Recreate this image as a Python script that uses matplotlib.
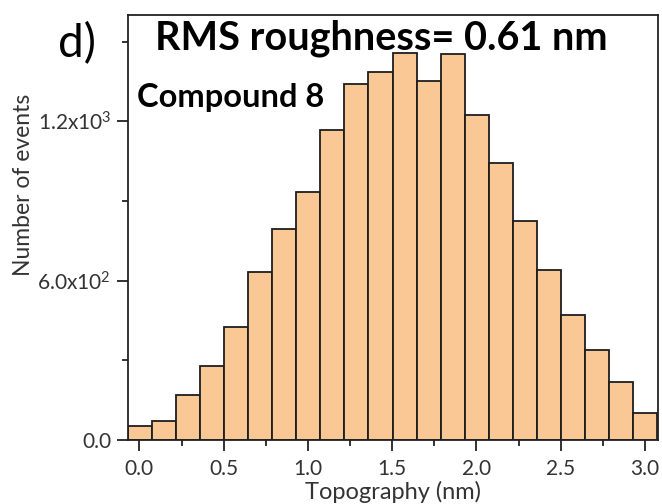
import numpy as np
import matplotlib
matplotlib.use("Agg")
import matplotlib.pyplot as plt
from matplotlib.ticker import MultipleLocator, FixedLocator

# Height histogram (topography) of the film surface
bin_start = -0.069          # nm, left edge of the first bin
bin_width = 0.1428          # nm
counts = [52, 72, 169, 278, 424, 634, 796, 934, 1169, 1339, 1386,
          1459, 1351, 1452, 1223, 1042, 825, 640, 471, 339, 217, 101]

x_ticks = [0.0, 0.5, 1.0, 1.5, 2.0, 2.5, 3.0]
x_tick_labels = ["0.0", "0.5", "1.0", "1.5", "2.0", "2.5", "3.0"]
y_ticks = [0, 600, 1200]
y_tick_labels = ["0.0", r"6.0x10$^{2}$", r"1.2x10$^{3}$"]

title_text = "RMS roughness= 0.61 nm"
sample_text = "Compound 8"
panel_text = "d)"

plt.rcParams["font.family"] = ["Lato", "DejaVu Sans"]
plt.rcParams["mathtext.fontset"] = "custom"
plt.rcParams["mathtext.rm"] = "Lato"
plt.rcParams["mathtext.default"] = "rm"

fig = plt.figure(figsize=(6.62, 5.04), dpi=100)
ax = fig.add_axes([0.193, 0.127, 0.801, 0.843])

edges = bin_start + bin_width * np.arange(len(counts))
ax.bar(edges, counts, width=bin_width, align="edge",
       color="#FAC895", edgecolor="#1e1e1e", linewidth=1.3)

ax.set_xlim(bin_start, 3.077)
ax.set_ylim(0, 1600)

ax.xaxis.set_major_locator(FixedLocator(x_ticks))
ax.set_xticklabels(x_tick_labels)
ax.xaxis.set_minor_locator(MultipleLocator(0.25))
ax.yaxis.set_major_locator(FixedLocator(y_ticks))
ax.set_yticklabels(y_tick_labels)
ax.yaxis.set_minor_locator(FixedLocator([300, 900, 1500]))

ax.tick_params(axis="both", which="major", direction="out", length=8,
               width=1.3, color="#222222", labelsize=15,
               labelcolor="#333333", pad=4)
ax.tick_params(axis="x", which="major", pad=6)
ax.tick_params(axis="both", which="minor", direction="out", length=4,
               width=1.3, color="#222222")
for s in ax.spines.values():
    s.set_linewidth(1.3)
    s.set_color("#222222")

ax.set_xlabel("Topography (nm)", fontsize=17, color="#333333", labelpad=1)
ax.set_ylabel("Number of events", fontsize=16.5, color="#333333")
ax.yaxis.set_label_coords(-0.177, 0.6)

fig.text(381 / 662, 1 - 38 / 504, title_text, fontsize=28.5, fontweight="bold",
         ha="center", va="center", color="black")
fig.text(137 / 662, 1 - 97 / 504, sample_text, fontsize=23.5, fontweight="bold",
         ha="left", va="center", color="black")
fig.text(77 / 662, 1 - 44 / 504, panel_text, fontsize=33,
         ha="center", va="center", color="black")

fig.savefig("out.png", dpi=100)
